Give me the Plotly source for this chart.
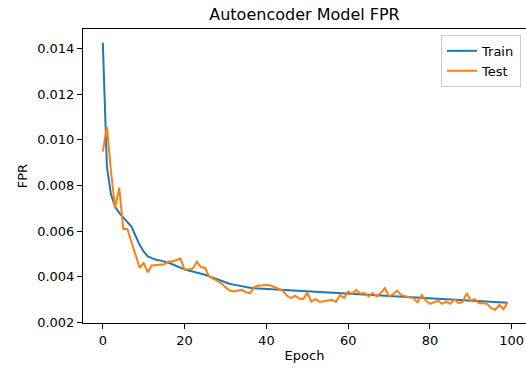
import plotly.graph_objects as go

epochs = list(range(100))

train_fpr = [
    0.01425, 0.00880, 0.00760, 0.00707, 0.00680, 0.00660, 0.00640, 0.00620, 0.00580, 0.00540,
    0.00510, 0.00490, 0.00482, 0.00475, 0.00472, 0.00468, 0.00462, 0.00455, 0.00447, 0.00440,
    0.00433, 0.00428, 0.00424, 0.00420, 0.00415, 0.00409, 0.00402, 0.00395, 0.00388, 0.00381,
    0.00375, 0.00370, 0.00366, 0.00362, 0.00358, 0.00355, 0.00352, 0.00350, 0.00349, 0.00348,
    0.00347, 0.00346, 0.00345, 0.00344, 0.00343, 0.00342, 0.00341, 0.00340, 0.00339, 0.00338,
    0.00337, 0.00336, 0.00335, 0.00333, 0.00332, 0.00331, 0.00330, 0.00329, 0.00328, 0.00327,
    0.00326, 0.00325, 0.00324, 0.00323, 0.00322, 0.00321, 0.00320, 0.00319, 0.00318, 0.00317,
    0.00316, 0.00315, 0.00314, 0.00313, 0.00312, 0.00311, 0.00310, 0.00309, 0.00308, 0.00307,
    0.00306, 0.00305, 0.00304, 0.00303, 0.00302, 0.00301, 0.00300, 0.00299, 0.00298, 0.00297,
    0.00296, 0.00295, 0.00294, 0.00293, 0.00292, 0.00291, 0.00290, 0.00289, 0.00288, 0.00287,
]

test_fpr = [
    0.00948, 0.01057, 0.00860, 0.00700, 0.00790, 0.00610, 0.00610, 0.00550, 0.00490, 0.00440,
    0.00460, 0.00420, 0.00450, 0.00452, 0.00452, 0.00455, 0.00467, 0.00467, 0.00474, 0.00480,
    0.00431, 0.00433, 0.00436, 0.00467, 0.00442, 0.00440, 0.00401, 0.00392, 0.00382, 0.00372,
    0.00355, 0.00340, 0.00336, 0.00338, 0.00343, 0.00332, 0.00329, 0.00355, 0.00362, 0.00362,
    0.00365, 0.00362, 0.00356, 0.00348, 0.00340, 0.00318, 0.00307, 0.00318, 0.00305, 0.00302,
    0.00331, 0.00292, 0.00302, 0.00291, 0.00293, 0.00296, 0.00300, 0.00290, 0.00320, 0.00307,
    0.00336, 0.00326, 0.00343, 0.00326, 0.00329, 0.00314, 0.00329, 0.00314, 0.00330, 0.00351,
    0.00314, 0.00325, 0.00340, 0.00320, 0.00314, 0.00311, 0.00307, 0.00288, 0.00320, 0.00296,
    0.00282, 0.00290, 0.00296, 0.00282, 0.00292, 0.00282, 0.00302, 0.00285, 0.00290, 0.00329,
    0.00296, 0.00302, 0.00285, 0.00285, 0.00282, 0.00263, 0.00256, 0.00278, 0.00258, 0.00288,
]

x_ticks = [0, 20, 40, 60, 80, 100]
y_ticks = [0.002, 0.004, 0.006, 0.008, 0.010, 0.012, 0.014]

FONT = "DejaVu Sans"

fig = go.Figure()
fig.add_trace(go.Scatter(x=epochs, y=train_fpr, mode="lines", name="Train",
                         line=dict(color="#1f77b4", width=2)))
fig.add_trace(go.Scatter(x=epochs, y=test_fpr, mode="lines", name="Test",
                         line=dict(color="#ff7f0e", width=2)))

axis_common = dict(
    showgrid=False, zeroline=False, showline=True, linecolor="black", linewidth=1,
    ticks="outside", ticklen=5, tickwidth=1, tickcolor="black",
    tickfont=dict(family=FONT, size=13, color="black"),
)

fig.update_layout(
    width=526, height=369,
    margin=dict(l=83, r=0, t=29, b=46),
    paper_bgcolor="white", plot_bgcolor="white",
    font=dict(family=FONT, size=13, color="black"),
    title=dict(text="Autoencoder Model FPR", x=(83 + 526) / 2 / 526, xanchor="center",
               y=1 - 14 / 369, yanchor="middle",
               font=dict(family=FONT, size=16, color="black")),
    xaxis=dict(range=[-4.85, 103.5], tickvals=x_ticks, mirror=True,
               title=dict(text="Epoch", font=dict(family=FONT, size=13), standoff=4),
               **axis_common),
    yaxis=dict(range=[0.00198, 0.01485], tickvals=y_ticks, tickformat=".3f", mirror=False,
               title=dict(text="FPR", font=dict(family=FONT, size=13), standoff=6),
               **axis_common),
    legend=dict(x=(521 - 83) / 443, xanchor="right", y=0.98, yanchor="top",
                bgcolor="rgba(255,255,255,0.8)", bordercolor="#cccccc", borderwidth=1,
                font=dict(family=FONT, size=13, color="black"), itemwidth=30,
                tracegroupgap=0),
    showlegend=True,
)

fig.write_html("out.html")
